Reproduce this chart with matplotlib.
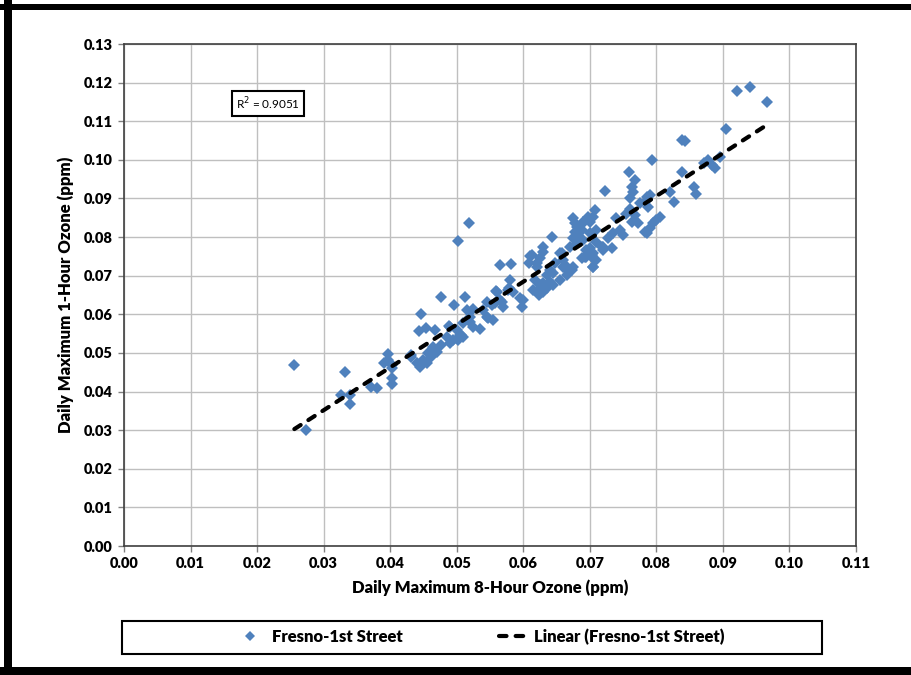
import numpy as np
import matplotlib
matplotlib.use('Agg')
import matplotlib.pyplot as plt
from matplotlib.patches import Rectangle
from matplotlib.ticker import FormatStrFormatter, MultipleLocator

plt.rcParams['font.family'] = ['Lato', 'DejaVu Sans']

# Daily max 8-hour ozone (x) vs daily max 1-hour ozone (y), Fresno-1st Street
ozone_8hr = [
    0.0256, 0.0274, 0.0326, 0.0332, 0.0340, 0.0340, 0.0371, 0.0380, 0.0390, 0.0397,
    0.0397, 0.0403, 0.0402, 0.0402, 0.0402, 0.0432, 0.0432, 0.0440, 0.0445, 0.0450,
    0.0455, 0.0457, 0.0462, 0.0465, 0.0470, 0.0477, 0.0490, 0.0446, 0.0443, 0.0454,
    0.0468, 0.0476, 0.0488, 0.0490, 0.0496, 0.0501, 0.0505, 0.0485, 0.0495, 0.0502,
    0.0510, 0.0502, 0.0518, 0.0512, 0.0515, 0.0525, 0.0520, 0.0510, 0.0507, 0.0502,
    0.0520, 0.0525, 0.0535, 0.0545, 0.0555, 0.0545, 0.0553, 0.0540, 0.0547, 0.0568,
    0.0559, 0.0565, 0.0581, 0.0580, 0.0577, 0.0585, 0.0578, 0.0560, 0.0565, 0.0570,
    0.0558, 0.0600, 0.0598, 0.0595, 0.0610, 0.0620, 0.0613, 0.0625, 0.0608, 0.0620,
    0.0630, 0.0630, 0.0643, 0.0618, 0.0625, 0.0615, 0.0630, 0.0623, 0.0635, 0.0640,
    0.0660, 0.0673, 0.0665, 0.0655, 0.0645, 0.0658, 0.0665, 0.0670, 0.0680, 0.0678,
    0.0688, 0.0700, 0.0680, 0.0710, 0.0720, 0.0705, 0.0710, 0.0675, 0.0680, 0.0690,
    0.0700, 0.0708, 0.0698, 0.0678, 0.0675, 0.0705, 0.0690, 0.0710, 0.0728, 0.0733,
    0.0718, 0.0720, 0.0690, 0.0695, 0.0703, 0.0705, 0.0693, 0.0655, 0.0660, 0.0665,
    0.0670, 0.0675, 0.0648, 0.0645, 0.0635, 0.0630, 0.0635, 0.0640, 0.0625, 0.0700,
    0.0703, 0.0708, 0.0695, 0.0705, 0.0688, 0.0723, 0.0759, 0.0768, 0.0763, 0.0765,
    0.0793, 0.0838, 0.0871, 0.0878, 0.0883, 0.0888, 0.0896, 0.0856, 0.0860, 0.0820,
    0.0826, 0.0791, 0.0786, 0.0760, 0.0760, 0.0755, 0.0768, 0.0763, 0.0773, 0.0806,
    0.0800, 0.0795, 0.0791, 0.0786, 0.0783, 0.0740, 0.0745, 0.0750, 0.0735, 0.0786,
    0.0776, 0.0788, 0.0838, 0.0843, 0.0904, 0.0921, 0.0941, 0.0967,
]
ozone_1hr = [
    0.0469, 0.0300, 0.0391, 0.0451, 0.0391, 0.0368, 0.0412, 0.0409, 0.0473, 0.0497,
    0.0482, 0.0469, 0.0460, 0.0435, 0.0419, 0.0495, 0.0490, 0.0473, 0.0464, 0.0482,
    0.0473, 0.0499, 0.0490, 0.0516, 0.0503, 0.0520, 0.0525, 0.0600, 0.0557, 0.0564,
    0.0559, 0.0646, 0.0570, 0.0568, 0.0624, 0.0559, 0.0546, 0.0542, 0.0533, 0.0538,
    0.0542, 0.0790, 0.0837, 0.0645, 0.0611, 0.0615, 0.0594, 0.0577, 0.0546, 0.0533,
    0.0581, 0.0568, 0.0561, 0.0594, 0.0585, 0.0633, 0.0624, 0.0611, 0.0590, 0.0633,
    0.0660, 0.0728, 0.0730, 0.0689, 0.0663, 0.0658, 0.0667, 0.0658, 0.0637, 0.0620,
    0.0628, 0.0637, 0.0620, 0.0641, 0.0752, 0.0732, 0.0753, 0.0745, 0.0732, 0.0723,
    0.0775, 0.0762, 0.0801, 0.0689, 0.0676, 0.0663, 0.0658, 0.0650, 0.0667, 0.0715,
    0.0723, 0.0715, 0.0702, 0.0689, 0.0676, 0.0758, 0.0715, 0.0775, 0.0784, 0.0836,
    0.0818, 0.0810, 0.0805, 0.0788, 0.0775, 0.0758, 0.0741, 0.0849, 0.0827, 0.0840,
    0.0840, 0.0870, 0.0853, 0.0814, 0.0797, 0.0853, 0.0836, 0.0818, 0.0797, 0.0771,
    0.0775, 0.0766, 0.0792, 0.0766, 0.0749, 0.0723, 0.0749, 0.0758, 0.0741, 0.0723,
    0.0715, 0.0723, 0.0732, 0.0706, 0.0702, 0.0680, 0.0671, 0.0684, 0.0667, 0.0771,
    0.0753, 0.0741, 0.0749, 0.0723, 0.0745, 0.0919, 0.0969, 0.0948, 0.0930, 0.0917,
    0.0999, 0.0969, 0.0991, 0.0999, 0.0987, 0.0978, 0.1008, 0.0930, 0.0911, 0.0917,
    0.0892, 0.0909, 0.0896, 0.0900, 0.0874, 0.0861, 0.0857, 0.0840, 0.0836, 0.0853,
    0.0844, 0.0836, 0.0823, 0.0810, 0.0814, 0.0849, 0.0818, 0.0805, 0.0810, 0.0905,
    0.0887, 0.0879, 0.1051, 0.1050, 0.1079, 0.1179, 0.1189, 0.1149,
]
r2_label = 'R$^2$ = 0.9051'
series_name = 'Fresno-1st Street'
x_label = 'Daily Maximum 8-Hour Ozone (ppm)'
y_label = 'Daily Maximum 1-Hour Ozone (ppm)'

x = np.array(ozone_8hr)
y = np.array(ozone_1hr)

fig = plt.figure(figsize=(9.11, 6.75), dpi=100)
ax = fig.add_axes([124 / 911, 1 - 546 / 675, 732 / 911, 502 / 675])

blue = '#4F81BD'
pts, = ax.plot(x, y, linestyle='none', marker='D', markersize=5.8,
               markerfacecolor=blue, markeredgewidth=0, label=series_name)

# linear trendline
slope, intercept = np.polyfit(x, y, 1)
xl = np.array([x.min(), x.max()])
trend, = ax.plot(xl, slope * xl + intercept, color='black', lw=3,
                 linestyle=(0, (1.8, 2.2)), dash_capstyle='round',
                 label='Linear (' + series_name + ')')

ax.set_xlim(0, 0.11)
ax.set_ylim(0, 0.13)
ax.xaxis.set_major_locator(MultipleLocator(0.01))
ax.yaxis.set_major_locator(MultipleLocator(0.01))
ax.xaxis.set_major_formatter(FormatStrFormatter('%.2f'))
ax.yaxis.set_major_formatter(FormatStrFormatter('%.2f'))
ax.grid(True, color='#BFBFBF', lw=1)
ax.set_axisbelow(True)
for s in ax.spines.values():
    s.set_color('#404040')
    s.set_linewidth(1.2)
ax.tick_params(direction='out', length=4, width=1, color='#808080',
               labelsize=10.5, pad=4)
for lab in ax.get_xticklabels() + ax.get_yticklabels():
    lab.set_fontweight('heavy')

ax.set_xlabel(x_label, fontsize=12, fontweight='heavy', labelpad=7)
ax.set_ylabel(y_label, fontsize=12, fontweight='heavy', labelpad=7)

ax.text(0.197, 0.882, r2_label, transform=ax.transAxes, ha='center', va='center',
        fontsize=8.5, bbox=dict(boxstyle='square,pad=0.35', facecolor='white',
                                edgecolor='black', lw=1.5))

# legend box below the plot
fig.patches.append(Rectangle((122 / 911, 1 - 654 / 675), 700 / 911, 33 / 675,
                             transform=fig.transFigure, facecolor='white',
                             edgecolor='black', lw=1.5))
fig.legend(handles=[pts, trend], loc='center', bbox_to_anchor=(481 / 911, 1 - 637 / 675),
           ncol=2, frameon=False, prop={'size': 12, 'weight': 'heavy'},
           handlelength=1.6, handletextpad=0.5, columnspacing=5.8, markerscale=0.8)

# thick outer frame (left, top, bottom)
fig.patches.append(Rectangle((4 / 911, 0), 8 / 911, 1, transform=fig.transFigure,
                             facecolor='black', edgecolor='none'))
fig.patches.append(Rectangle((0, 1 - 10 / 675), 1, 6 / 675, transform=fig.transFigure,
                             facecolor='black', edgecolor='none'))
fig.patches.append(Rectangle((0, 0), 1, 8 / 675, transform=fig.transFigure,
                             facecolor='black', edgecolor='none'))

fig.savefig('out.png', dpi=100)
